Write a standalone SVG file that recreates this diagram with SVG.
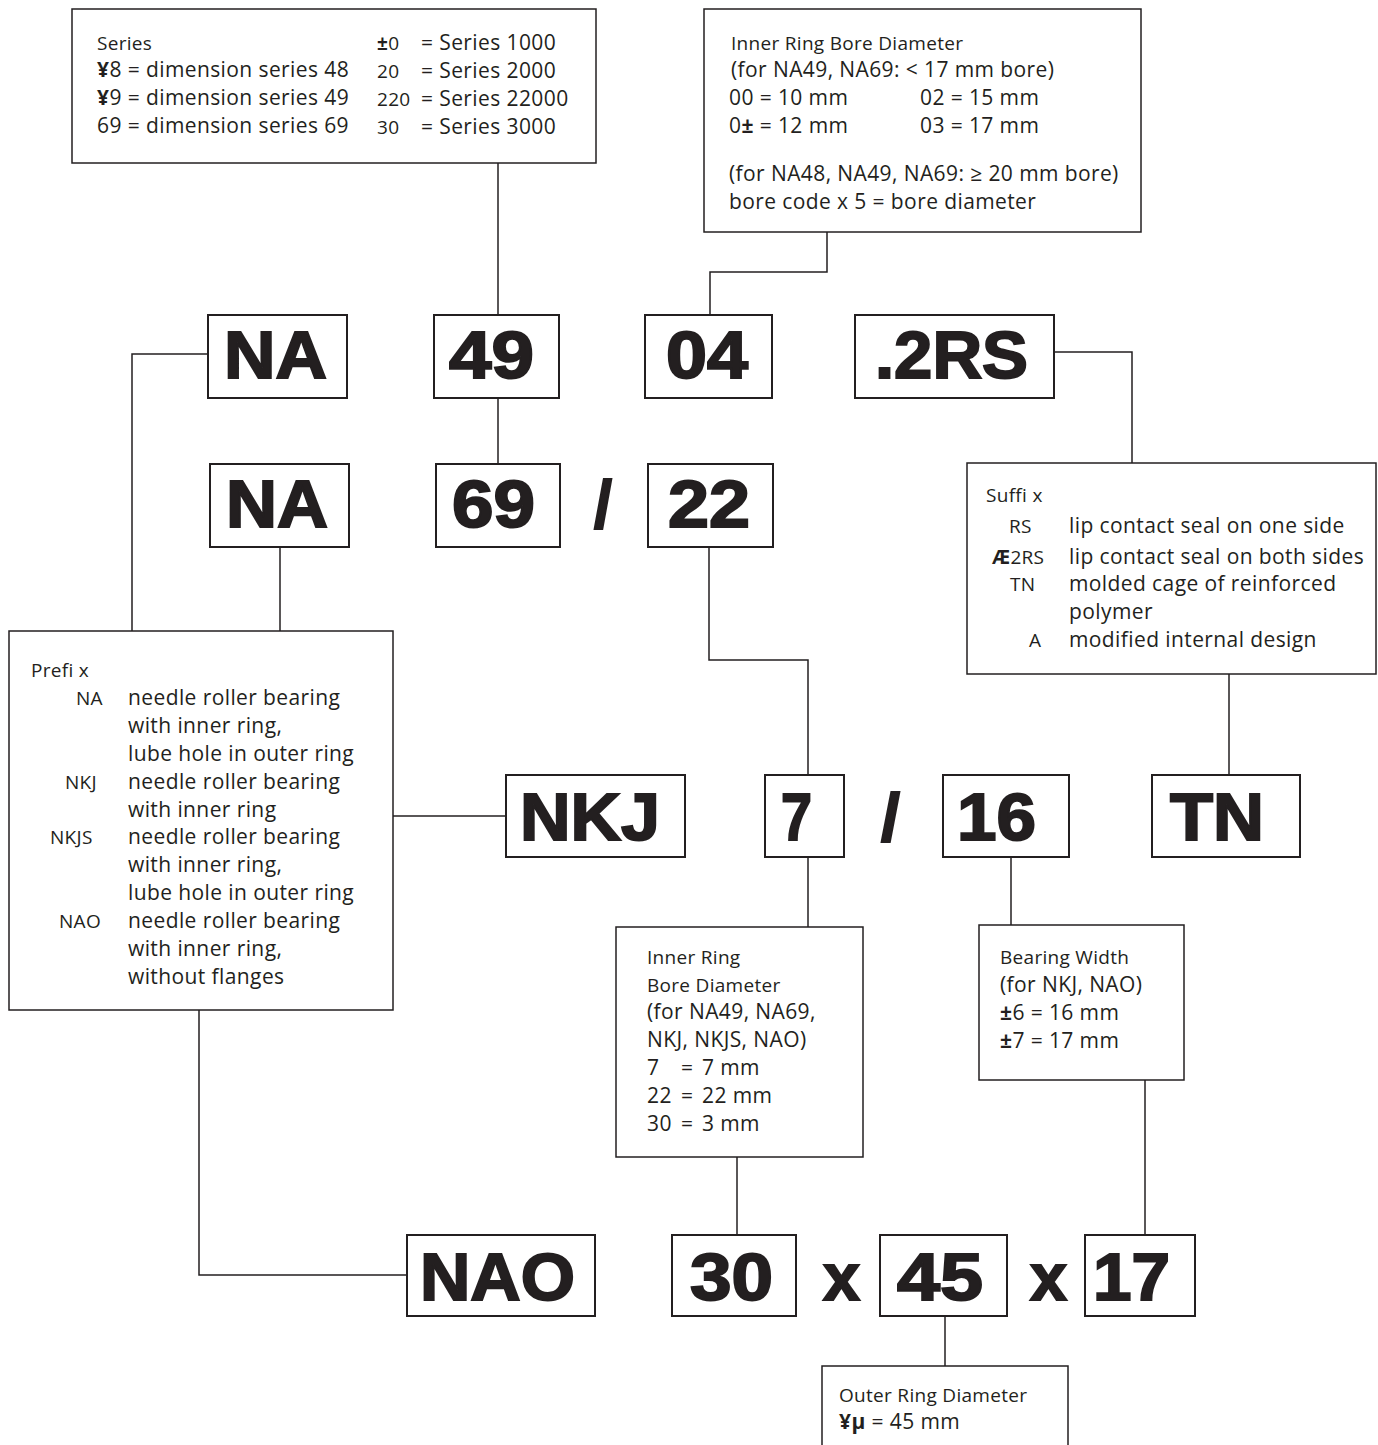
<svg xmlns="http://www.w3.org/2000/svg" width="1378" height="1445" viewBox="0 0 1378 1445">
<style>
.bg{fill:#fff}
.box{fill:#fff;stroke:#231f20;stroke-width:1.5}
.cbox{fill:#fff;stroke:#231f20;stroke-width:2}
.ln{fill:none;stroke:#231f20;stroke-width:1.5}
.t{font-family:"Open Sans","Noto Sans",sans-serif;font-size:21px;letter-spacing:0.4px;fill:#231f20}
.s{font-family:"Open Sans","Noto Sans",sans-serif;font-size:19px;letter-spacing:0.3px;fill:#231f20}
.b{font-weight:bold}
.big{font-family:"Liberation Sans",Arial,sans-serif;font-weight:bold;font-size:66px;fill:#231f20;stroke:#231f20;stroke-width:2;text-anchor:middle}
</style>
<rect class="bg" x="0" y="0" width="1378" height="1445"/>
<g id="connectors">
<polyline class="ln" points="498,163 498,315"/>
<polyline class="ln" points="827,232 827,272 710,272 710,315"/>
<polyline class="ln" points="498,398 498,464"/>
<polyline class="ln" points="208,354 132,354 132,631"/>
<polyline class="ln" points="280,547 280,631"/>
<polyline class="ln" points="1054,352 1132,352 1132,463"/>
<polyline class="ln" points="1229,674 1229,775"/>
<polyline class="ln" points="709,547 709,660 808,660 808,775"/>
<polyline class="ln" points="393,816 506,816"/>
<polyline class="ln" points="808,857 808,927"/>
<polyline class="ln" points="1011,857 1011,925"/>
<polyline class="ln" points="737,1157 737,1235"/>
<polyline class="ln" points="1145,1080 1145,1235"/>
<polyline class="ln" points="199,1010 199,1275 407,1275"/>
<polyline class="ln" points="945,1316 945,1366"/>
</g>
<g id="series-box">
<rect class="box" x="72" y="9" width="524" height="154"/>
<text class="s" x="97" y="50">Series</text>
<text class="t" x="97" y="77"><tspan class="b">¥</tspan>8 = dimension series 48</text>
<text class="t" x="97" y="105"><tspan class="b">¥</tspan>9 = dimension series 49</text>
<text class="t" x="97" y="133">69 = dimension series 69</text>
<text class="s" x="377" y="50"><tspan class="b">±</tspan>0</text>
<text class="s" x="377" y="78">20</text>
<text class="s" x="377" y="106">220</text>
<text class="s" x="377" y="134">30</text>
<text class="t" x="421" y="50">= Series 1000</text>
<text class="t" x="421" y="78">= Series 2000</text>
<text class="t" x="421" y="106">= Series 22000</text>
<text class="t" x="421" y="134">= Series 3000</text>
</g>
<g id="bore-box">
<rect class="box" x="704" y="9" width="437" height="223"/>
<text class="s" x="731" y="50">Inner Ring Bore Diameter</text>
<text class="t" x="731" y="77">(for NA49, NA69: &lt; 17 mm bore)</text>
<text class="t" x="729" y="105">00 = 10 mm</text>
<text class="t" x="920" y="105">02 = 15 mm</text>
<text class="t" x="729" y="133">0<tspan class="b">±</tspan> = 12 mm</text>
<text class="t" x="920" y="133">03 = 17 mm</text>
<text class="t" x="729" y="181">(for NA48, NA49, NA69: ≥ 20 mm bore)</text>
<text class="t" x="729" y="209">bore code x 5 = bore diameter</text>
</g>
<g id="na-top"><rect class="cbox" x="208" y="315" width="139" height="83"/><text class="big" x="275.5" y="378" textLength="103" lengthAdjust="spacingAndGlyphs">NA</text></g>
<g id="n49"><rect class="cbox" x="434" y="315" width="125" height="83"/><text class="big" x="491.5" y="378" textLength="85" lengthAdjust="spacingAndGlyphs">49</text></g>
<g id="n04"><rect class="cbox" x="645" y="315" width="127" height="83"/><text class="big" x="707" y="378" textLength="82" lengthAdjust="spacingAndGlyphs">04</text></g>
<g id="n2rs"><rect class="cbox" x="855" y="315" width="199" height="83"/><text class="big" x="951.5" y="378" textLength="153" lengthAdjust="spacingAndGlyphs">.2RS</text></g>
<g id="na-2"><rect class="cbox" x="210" y="464" width="139" height="83"/><text class="big" x="277" y="527" textLength="102" lengthAdjust="spacingAndGlyphs">NA</text></g>
<g id="n69"><rect class="cbox" x="436" y="464" width="124" height="83"/><text class="big" x="493.5" y="527" textLength="83" lengthAdjust="spacingAndGlyphs">69</text></g>
<g id="slash1"><text class="big" x="603" y="527" textLength="18" lengthAdjust="spacingAndGlyphs">/</text></g>
<g id="n22"><rect class="cbox" x="648" y="464" width="125" height="83"/><text class="big" x="709" y="527" textLength="82" lengthAdjust="spacingAndGlyphs">22</text></g>
<g id="suffix-box">
<rect class="box" x="967" y="463" width="409" height="211"/>
<text class="s" x="986" y="502">Suffi x</text>
<text class="s" x="1009" y="533">RS</text>
<text class="t" x="1069" y="533">lip contact seal on one side</text>
<text class="s" x="992" y="564"><tspan class="b">Æ</tspan>2RS</text>
<text class="t" x="1069" y="564">lip contact seal on both sides</text>
<text class="s" x="1010" y="591">TN</text>
<text class="t" x="1069" y="591">molded cage of reinforced</text>
<text class="t" x="1069" y="619">polymer</text>
<text class="s" x="1029" y="647">A</text>
<text class="t" x="1069" y="647">modified internal design</text>
</g>
<g id="prefix-box">
<rect class="box" x="9" y="631" width="384" height="379"/>
<text class="s" x="31" y="677">Prefi x</text>
<text class="s" x="76" y="705">NA</text>
<text class="t" x="128" y="705">needle roller bearing</text>
<text class="t" x="128" y="733">with inner ring,</text>
<text class="t" x="128" y="761">lube hole in outer ring</text>
<text class="s" x="65" y="789">NKJ</text>
<text class="t" x="128" y="789">needle roller bearing</text>
<text class="t" x="128" y="817">with inner ring</text>
<text class="s" x="50" y="844">NKJS</text>
<text class="t" x="128" y="844">needle roller bearing</text>
<text class="t" x="128" y="872">with inner ring,</text>
<text class="t" x="128" y="900">lube hole in outer ring</text>
<text class="s" x="59" y="928">NAO</text>
<text class="t" x="128" y="928">needle roller bearing</text>
<text class="t" x="128" y="956">with inner ring,</text>
<text class="t" x="128" y="984">without flanges</text>
</g>
<g id="nkj"><rect class="cbox" x="506" y="775" width="179" height="82"/><text class="big" x="590" y="840" textLength="140" lengthAdjust="spacingAndGlyphs">NKJ</text></g>
<g id="n7"><rect class="cbox" x="765" y="775" width="79" height="82"/><text class="big" x="796.5" y="840" textLength="31" lengthAdjust="spacingAndGlyphs">7</text></g>
<g id="slash2"><text class="big" x="890.5" y="840" textLength="19" lengthAdjust="spacingAndGlyphs">/</text></g>
<g id="n16"><rect class="cbox" x="943" y="775" width="126" height="82"/><text class="big" x="996.5" y="840" textLength="79" lengthAdjust="spacingAndGlyphs">16</text></g>
<g id="tn"><rect class="cbox" x="1152" y="775" width="148" height="82"/><text class="big" x="1217" y="840" textLength="94" lengthAdjust="spacingAndGlyphs">TN</text></g>
<g id="bore2-box">
<rect class="box" x="616" y="927" width="247" height="230"/>
<text class="s" x="647" y="964">Inner Ring</text>
<text class="s" x="647" y="992">Bore Diameter</text>
<text class="t" x="647" y="1019">(for NA49, NA69,</text>
<text class="t" x="647" y="1047">NKJ, NKJS, NAO)</text>
<text class="t" x="647" y="1075">7</text><text class="t" x="681" y="1075">=</text><text class="t" x="702" y="1075">7 mm</text>
<text class="t" x="647" y="1103">22</text><text class="t" x="681" y="1103">=</text><text class="t" x="702" y="1103">22 mm</text>
<text class="t" x="647" y="1131">30</text><text class="t" x="681" y="1131">=</text><text class="t" x="702" y="1131">3 mm</text>
</g>
<g id="width-box">
<rect class="box" x="979" y="925" width="205" height="155"/>
<text class="s" x="1000" y="964">Bearing Width</text>
<text class="t" x="1000" y="992">(for NKJ, NAO)</text>
<text class="t" x="1000" y="1020"><tspan class="b">±</tspan>6 = 16 mm</text>
<text class="t" x="1000" y="1048"><tspan class="b">±</tspan>7 = 17 mm</text>
</g>
<g id="nao"><rect class="cbox" x="407" y="1235" width="188" height="81"/><text class="big" x="497.5" y="1300" textLength="155" lengthAdjust="spacingAndGlyphs">NAO</text></g>
<g id="n30"><rect class="cbox" x="672" y="1235" width="124" height="81"/><text class="big" x="731.5" y="1300" textLength="83" lengthAdjust="spacingAndGlyphs">30</text></g>
<g id="x1"><text class="big" x="841.5" y="1300" textLength="37" lengthAdjust="spacingAndGlyphs">x</text></g>
<g id="n45"><rect class="cbox" x="880" y="1235" width="127" height="81"/><text class="big" x="940" y="1300" textLength="86" lengthAdjust="spacingAndGlyphs">45</text></g>
<g id="x2"><text class="big" x="1048.5" y="1300" textLength="37" lengthAdjust="spacingAndGlyphs">x</text></g>
<g id="n17"><rect class="cbox" x="1085" y="1235" width="110" height="81"/><text class="big" x="1131.5" y="1300" textLength="77" lengthAdjust="spacingAndGlyphs">17</text></g>
<g id="outer-box">
<path class="ln" d="M822,1445 V1366 H1068 V1445"/>
<text class="s" x="839" y="1402">Outer Ring Diameter</text>
<text class="t" x="839" y="1429"><tspan class="b">¥μ</tspan> = 45 mm</text>
</g>
</svg>
